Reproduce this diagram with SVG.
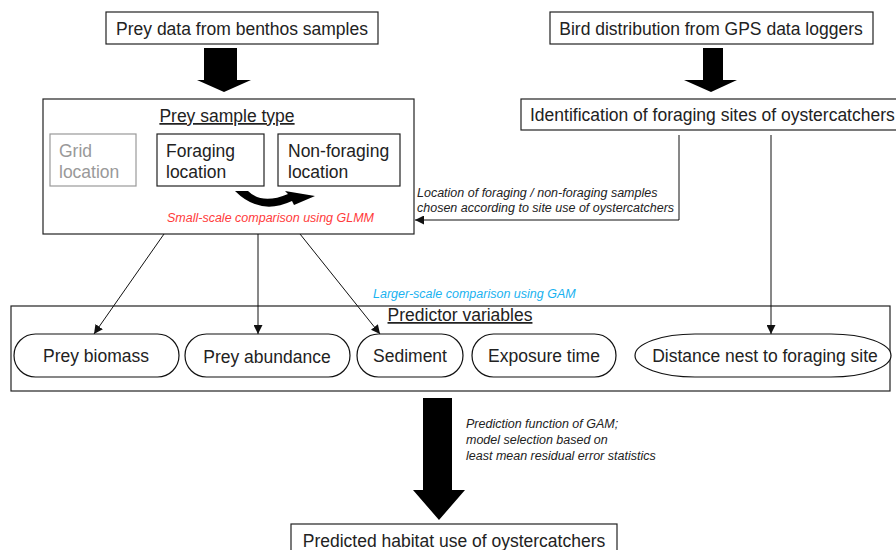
<svg xmlns="http://www.w3.org/2000/svg" width="896" height="550" viewBox="0 0 896 550">
<defs>
<style>
.box{fill:#fff;stroke:#222;stroke-width:1.2}
.obox{fill:none;stroke:#222;stroke-width:1.2}
.gbox{fill:#fff;stroke:#999;stroke-width:1.2}
.cap{fill:#fff;stroke:#111;stroke-width:1.2}
.t{font-family:"Liberation Sans",Arial,sans-serif;font-size:17.5px;fill:#222}
.tm{text-anchor:middle}
.g{fill:#999}
.it{font-family:"Liberation Sans",Arial,sans-serif;font-size:12.5px;font-style:italic;fill:#222}
.red{fill:#ff3b3b}
.blue{fill:#19b2f0}
.ln{stroke:#111;stroke-width:1;fill:none}
.big{fill:#000}
</style>
<marker id="ah" viewBox="0 0 10 10" refX="10" refY="5" markerWidth="9" markerHeight="9" markerUnits="userSpaceOnUse" orient="auto">
<path d="M0,0 L10,5 L0,10 Z" fill="#111"/>
</marker>
</defs>
<rect width="896" height="550" fill="#fff"/>

<g id="prey-data">
<rect class="box" x="106" y="12" width="272" height="32"/>
<text class="t tm" x="242" y="35">Prey data from benthos samples</text>
</g>

<g id="bird-distribution">
<rect class="box" x="550" y="12" width="323" height="32"/>
<text class="t tm" x="711" y="35">Bird distribution from GPS data loggers</text>
</g>

<g id="prey-sample-type">
<rect class="box" x="43" y="99" width="371" height="135"/>
<text class="t tm" x="227" y="122" text-decoration="underline">Prey sample type</text>
<text class="it red" x="167" y="222">Small-scale comparison using GLMM</text>
</g>

<g id="grid-location">
<rect class="gbox" x="50" y="134" width="86" height="52"/>
<text class="t g" x="59" y="157">Grid</text>
<text class="t g" x="59" y="178">location</text>
</g>

<g id="foraging-location">
<rect class="box" x="157" y="134" width="107" height="52"/>
<text class="t" x="166" y="157">Foraging</text>
<text class="t" x="166" y="178">location</text>
</g>

<g id="non-foraging-location">
<rect class="box" x="278" y="134" width="122" height="52"/>
<text class="t" x="288" y="157">Non-foraging</text>
<text class="t" x="288" y="178">location</text>
</g>

<g id="identification">
<rect class="box" x="521" y="99" width="390" height="31"/>
<text class="t" x="530" y="121">Identification of foraging sites of oystercatchers</text>
</g>

<g id="location-label">
<text class="it" x="417" y="197">Location of foraging / non-foraging samples</text>
<text class="it" x="417" y="212">chosen according to site use of oystercatchers</text>
</g>

<g id="larger-scale-label">
<text class="it blue" x="373" y="298">Larger-scale comparison using GAM</text>
</g>

<g id="predictor-variables">
<rect class="obox" x="11" y="306" width="879" height="85"/>
<text class="t tm" x="460" y="321" text-decoration="underline">Predictor variables</text>
</g>

<g id="prey-biomass">
<rect class="cap" x="14" y="334" width="165" height="43" rx="21.5"/>
<text class="t tm" x="96" y="362">Prey biomass</text>
</g>

<g id="prey-abundance">
<rect class="cap" x="185" y="334" width="165" height="43" rx="21.5"/>
<text class="t tm" x="267" y="363">Prey abundance</text>
</g>

<g id="sediment">
<rect class="cap" x="357" y="334" width="106" height="43" rx="21.5"/>
<text class="t tm" x="410" y="362">Sediment</text>
</g>

<g id="exposure-time">
<rect class="cap" x="472" y="334" width="144" height="43" rx="21.5"/>
<text class="t tm" x="544" y="362">Exposure time</text>
</g>

<g id="distance-nest">
<rect class="cap" x="635" y="334" width="256" height="43" rx="60" ry="21.5"/>
<text class="t tm" x="765" y="362">Distance nest to foraging site</text>
</g>

<g id="prediction-label">
<text class="it" x="466" y="428">Prediction function of GAM;</text>
<text class="it" x="466" y="444">model selection based on</text>
<text class="it" x="466" y="460">least mean residual error statistics</text>
</g>

<g id="predicted-habitat">
<rect class="box" x="291" y="524" width="326" height="40"/>
<text class="t tm" x="454" y="547">Predicted habitat use of oystercatchers</text>
</g>

<g id="connectors">
<path class="big" d="M204,48 H237 V80 H251 L224,92 L197,80 H204 Z"/>
<path class="big" d="M703,48 H723 V80 H737 L711,92 L684,80 H703 Z"/>
<path class="big" d="M423,398 H452 V490 H465 L439,520 L413,490 H423 Z"/>
<path class="big" d="M235,191 L248,191 Q262,205 288,194 L285,191 L315,196 L294,205 L292,201 Q260,216 235,191 Z"/>
<polyline class="ln" points="679,135 679,220 415,220" marker-end="url(#ah)"/>
<line class="ln" x1="771" y1="135" x2="771" y2="334" marker-end="url(#ah)"/>
<line class="ln" x1="164" y1="234" x2="94" y2="334" marker-end="url(#ah)"/>
<line class="ln" x1="258" y1="234" x2="258" y2="334" marker-end="url(#ah)"/>
<line class="ln" x1="300" y1="234" x2="380" y2="334" marker-end="url(#ah)"/>
</g>
</svg>
